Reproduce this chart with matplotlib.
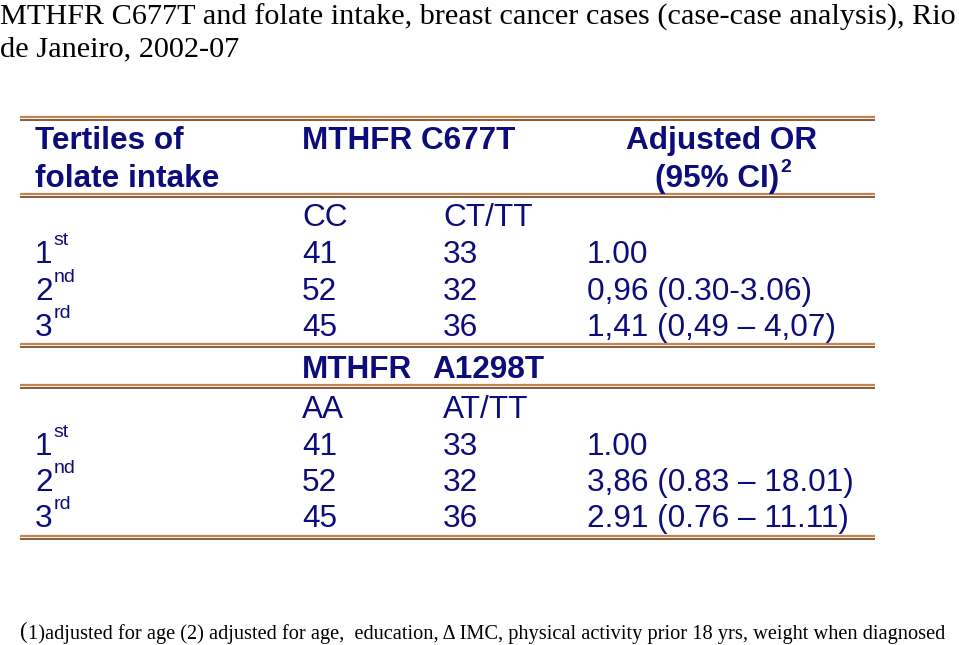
import matplotlib.pyplot as plt

# table content
title_lines = ["MTHFR C677T and folate intake, breast cancer cases (case-case analysis), Rio",
               "de Janeiro, 2002-07"]
tertiles = ["1", "2", "3"]
tertile_sup = ["st", "nd", "rd"]

genotypes_c677t = ["CC", "CT/TT"]
cases_cc = [41, 52, 45]
cases_ct_tt = [33, 32, 36]
or_c677t = ["1.00", "0,96 (0.30-3.06)", "1,41 (0,49 \u2013 4,07)"]

genotypes_a1298t = ["AA", "AT/TT"]
cases_aa = [41, 52, 45]
cases_at_tt = [33, 32, 36]
or_a1298t = ["1.00", "3,86 (0.83 \u2013 18.01)", "2.91 (0.76 \u2013 11.11)"]

footnote = ("1)adjusted for age (2) adjusted for age,  education, \u0394 IMC, "
            "physical activity prior 18 yrs, weight when diagnosed")

NAVY = "#0c0c7a"
FS = 22.7

fig = plt.figure(figsize=(9.59, 6.45), dpi=100)
ax = fig.add_axes([0, 0, 1, 1])
ax.set_xlim(0, 959)
ax.set_ylim(645, 0)
ax.axis("off")

# title
for i, line in enumerate(title_lines):
    ax.text(0, 25 + 31 * i, line, fontsize=21.75, family="Liberation Serif",
            va="baseline", ha="left", color="black")

# double rules
for y in [117, 194, 344, 385, 536]:
    ax.plot([20, 875], [y, y], color="#c48450", lw=1.6, solid_capstyle="butt")
    ax.plot([20, 875], [y + 3, y + 3], color="#8a5a3a", lw=1.4, solid_capstyle="butt")

def txt(x, y, s, bold=False, **kw):
    return ax.text(x, y, s, fontsize=FS, family="Liberation Sans", color=NAVY,
                   fontweight="bold" if bold else "normal", va="baseline", ha="left", **kw)

def sup(base, s, bold=False, dy=18):
    ax.annotate(s, xy=(1, 0), xycoords=base, xytext=(0.5, dy), textcoords="offset points",
                fontsize=14, family="Liberation Sans", color=NAVY,
                fontweight="bold" if bold else "normal", va="baseline", ha="left")

col1, col2, col3, col4 = 35, 302, 443, 587

# header
txt(col1, 149, "Tertiles of", bold=True)
txt(col1, 187, "folate intake", bold=True)
txt(col2, 149, "MTHFR C677T", bold=True)
txt(722, 149, "Adjusted OR", bold=True).set_ha("center")
t = txt(655, 187, "(95% CI)", bold=True)
sup(t, "2", bold=True, dy=16)

# C677T block
txt(col2, 226, genotypes_c677t[0])
txt(col3, 226, genotypes_c677t[1])
rows1 = [263, 300, 336]
for i, y in enumerate(rows1):
    b = txt(col1, y, tertiles[i])
    sup(b, tertile_sup[i])
    txt(col2, y, str(cases_cc[i]))
    txt(col3, y, str(cases_ct_tt[i]))
    txt(col4, y, or_c677t[i])

# A1298T block
txt(col2, 378, "MTHFR", bold=True)
txt(432, 378, "A1298T", bold=True)
txt(col2, 418, genotypes_a1298t[0])
txt(col3, 418, genotypes_a1298t[1])
rows2 = [455, 491, 527]
for i, y in enumerate(rows2):
    b = txt(col1, y, tertiles[i])
    sup(b, tertile_sup[i])
    txt(col2, y, str(cases_aa[i]))
    txt(col3, y, str(cases_at_tt[i]))
    txt(col4, y, or_a1298t[i])

# footnote: slightly larger opening parenthesis, then the rest
p = ax.text(20, 638, "(", fontsize=16.5, family="Liberation Serif", color="black",
            va="baseline", ha="left")
ax.annotate(footnote, xy=(1, 0), xycoords=p, xytext=(0, 3), textcoords="offset points",
            fontsize=14.7, family="Liberation Serif", color="black", va="baseline", ha="left")

fig.savefig("out.png", dpi=100)
